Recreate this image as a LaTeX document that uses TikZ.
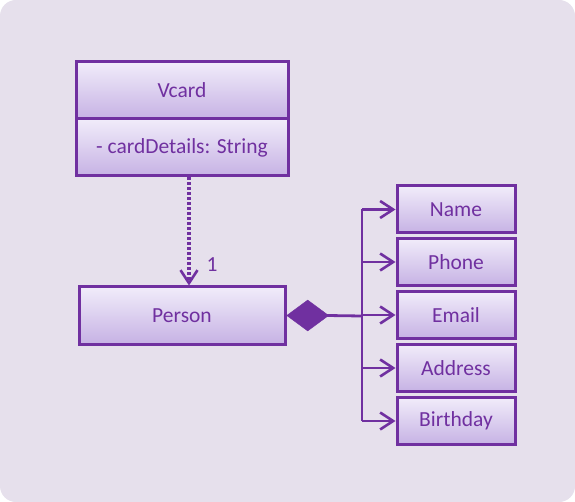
\documentclass[tikz,border=0pt]{standalone}
\usepackage{fontspec}
\setmainfont{Carlito}
\usetikzlibrary{arrows.meta,shapes.geometric}
\definecolor{umlpurple}{HTML}{7030A0}
\definecolor{bgcol}{HTML}{E6E0EC}
\definecolor{topfill}{HTML}{F1ECFA}
\definecolor{botfill}{HTML}{C6B2E4}
\tikzset{
  umlbox/.style={draw=umlpurple, line width=3pt, top color=topfill, bottom color=botfill,
    text=umlpurple, font=\fontsize{21.5}{25}\selectfont, inner sep=0pt},
  conn/.style={draw=umlpurple, line width=2.8pt},
  barb/.style={-{Straight Barb[length=13pt,width=17pt,line width=2.6pt]}},
  lbl/.style={text=umlpurple, font=\fontsize{21.5}{25}\selectfont},
}
\begin{document}
\begin{tikzpicture}[x=1pt,y=-1pt]
\useasboundingbox (0,0) rectangle (575,502);
\fill[white] (0,0) rectangle (575,502);
\fill[bgcol, rounded corners=16pt] (0,0) rectangle (575,502);
% Vcard
\node[umlbox, minimum width=212pt, minimum height=57pt] (vname) at (182,90.5) {Vcard};
\node[umlbox, minimum width=212pt, minimum height=57pt] (vattr) at (182,147.5) {- cardDetails: String};
% Person
\node[umlbox, minimum width=206pt, minimum height=57pt] (person) at (182,315.5) {Person};
% right boxes
\node[umlbox, minimum width=118pt, minimum height=47pt] (name) at (456,209.5) {Name};
\node[umlbox, minimum width=118pt, minimum height=47pt] (phone) at (456,262) {Phone};
\node[umlbox, minimum width=118pt, minimum height=47pt] (email) at (456,315) {Email};
\node[umlbox, minimum width=118pt, minimum height=47pt] (address) at (456,368) {Address};
\node[umlbox, minimum width=118pt, minimum height=47pt] (birthday) at (456,421) {Birthday};
% dotted dependency
\coordinate (dtop) at (189,177);
\coordinate (dbot) at (189,287);
\draw[conn, barb, line width=3.3pt, dash pattern=on 3pt off 2pt] (vattr.south -| dtop) -- (person.north -| dbot);
\node[lbl] (one) at (212,265) {1};
% composition diamond
\node[diamond, fill=umlpurple, draw=umlpurple, inner sep=0pt, minimum width=42pt, minimum height=31pt, anchor=west] (dia) at (person.east) {};
\coordinate (bus) at (362,316);
\draw[conn] ([xshift=-2pt]dia.east) -- (bus);
\coordinate (bustop) at (362,209.5);
\coordinate (busbot) at (362,421);
\draw[conn] (bustop) -- (busbot);
\foreach \n in {name,phone,email,address,birthday}{
  \draw[conn, barb] (bus |- \n.west) -- (\n.west);
}
\end{tikzpicture}
\end{document}
